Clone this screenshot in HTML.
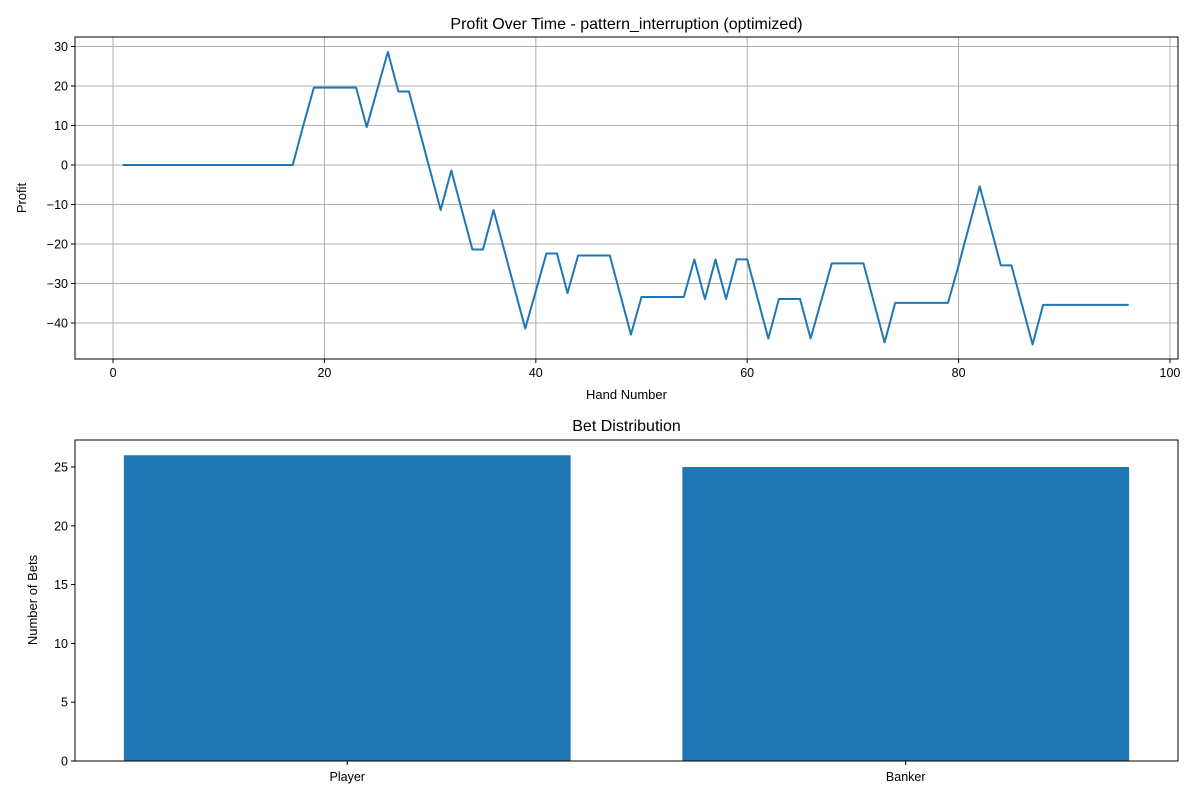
<!DOCTYPE html>
<html><head><meta charset="utf-8"><style>
body{margin:0;background:#fff;font-family:"Liberation Sans","DejaVu Sans",sans-serif}
</style></head><body>
<svg id="c" width="1200" height="800" xmlns="http://www.w3.org/2000/svg"></svg>
<script>
const hands=[];for(let i=1;i<=96;i++)hands.push(i);
const profit=[0,0,0,0,0,0,0,0,0,0,0,0,0,0,0,0,0,10,19.6,19.6,19.6,19.6,19.6,9.6,19.1,28.6,18.6,18.6,8.6,-1.4,-11.4,-1.4,-11.4,-21.4,-21.4,-11.4,-21.4,-31.4,-41.4,-31.9,-22.4,-22.4,-32.4,-22.9,-22.9,-22.9,-22.9,-32.9,-42.9,-33.4,-33.4,-33.4,-33.4,-33.4,-23.9,-33.9,-23.9,-33.9,-23.9,-23.9,-33.9,-43.9,-33.9,-33.9,-33.9,-43.9,-34.4,-24.9,-24.9,-24.9,-24.9,-34.9,-44.9,-34.9,-34.9,-34.9,-34.9,-34.9,-34.9,-25.4,-15.4,-5.4,-15.4,-25.4,-25.4,-35.4,-45.4,-35.4,-35.4,-35.4,-35.4,-35.4,-35.4,-35.4,-35.4,-35.4];
const xTicks=[0,20,40,60,80,100];
const yTicks=[30,20,10,0,-10,-20,-30,-40];
const categories=["Player","Banker"];
const counts=[26,25];
const barTicks=[0,5,10,15,20,25];

const svg=document.getElementById('c');const NS="http://www.w3.org/2000/svg";
function el(t,a,txt){const e=document.createElementNS(NS,t);for(const k in a)e.setAttribute(k,a[k]);if(txt!==undefined)e.textContent=txt;svg.appendChild(e);return e;}
const L=75,R=1178,T=37,B=359;
const sx=v=>L+(v+3.6)/(100.76+3.6)*(R-L);
const sy=v=>T+(32.4-v)/(32.4+49.1)*(B-T);
xTicks.forEach(v=>{const x=sx(v);
 let g=el('line',{x1:x,x2:x,y1:T,y2:B,stroke:'#b0b0b0','stroke-width':1});
 el('line',{x1:x,x2:x,y1:B,y2:B+4,stroke:'#000'});
 let t=el('text',{x:x,y:B+18,'font-size':12.5,'text-anchor':'middle'},v);});
yTicks.forEach(v=>{const y=sy(v);
 let g=el('line',{x1:L,x2:R,y1:y,y2:y,stroke:'#b0b0b0','stroke-width':1});
 el('line',{x1:L-4,x2:L,y1:y,y2:y,stroke:'#000'});
 let t=el('text',{x:L-7,y:y+4.5,'font-size':12.5,'text-anchor':'end'},v===0?'0':(v<0?'−'+(-v):v));});
let p=el('polyline',{points:hands.map((h,i)=>sx(h)+','+sy(profit[i])).join(' '),fill:'none',stroke:'#1f77b4','stroke-width':2,'stroke-linejoin':'round','stroke-linecap':'square'});

let f=el('rect',{x:L,y:T,width:R-L,height:B-T,fill:'none',stroke:'#000','stroke-width':1});
let t1=el('text',{x:(L+R)/2,y:29,'font-size':16,'text-anchor':'middle'},'Profit Over Time - pattern_interruption (optimized)');
let t2=el('text',{x:(L+R)/2,y:399,'font-size':13,'text-anchor':'middle'},'Hand Number');
let t3=el('text',{x:26,y:198,'font-size':13,'text-anchor':'middle',transform:'rotate(-90 26 198)'},'Profit');
const T2=440,B2=761;
const bx=v=>L+(v+0.4875)/(1.975)*(R-L);
const by=v=>B2-v*(B2-467)/25;
barTicks.forEach(v=>{const y=by(v);el('line',{x1:L-4,x2:L,y1:y,y2:y,stroke:'#000'});
 let t=el('text',{x:L-7,y:y+4.5,'font-size':12.5,'text-anchor':'end'},v);});
categories.forEach((c,i)=>{const x0=bx(i-0.4),x1=bx(i+0.4);
 let r=el('rect',{x:x0,y:by(counts[i]),width:x1-x0,height:B2-by(counts[i]),fill:'#1f77b4'});
 el('line',{x1:bx(i),x2:bx(i),y1:B2,y2:B2+4,stroke:'#000'});
 let t=el('text',{x:bx(i),y:B2+20,'font-size':12.5,'text-anchor':'middle'},c);});
let f2=el('rect',{x:L,y:T2,width:R-L,height:B2-T2,fill:'none',stroke:'#000','stroke-width':1});
let t4=el('text',{x:(L+R)/2,y:431,'font-size':16,'text-anchor':'middle'},'Bet Distribution');
let t5=el('text',{x:37,y:600,'font-size':13,'text-anchor':'middle',transform:'rotate(-90 37 600)'},'Number of Bets');
</script>
</body></html>
